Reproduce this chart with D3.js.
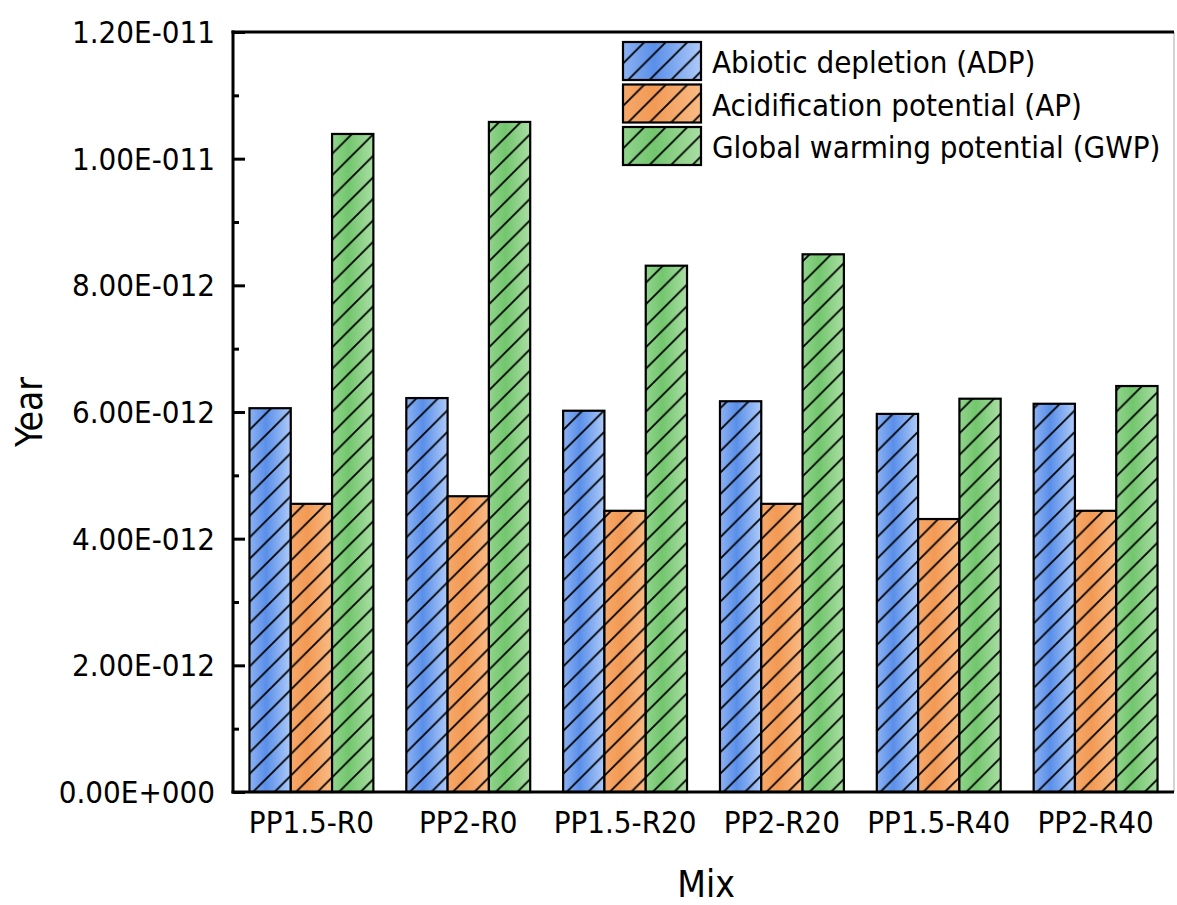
<!DOCTYPE html>
<html>
<head>
<meta charset="utf-8">
<script src="https://cdn.jsdelivr.net/npm/d3@7"></script>
<style>
  body { margin: 0; background: #fff; }
  text { font-family: "DejaVu Sans Condensed", "DejaVu Sans", sans-serif; font-stretch: condensed; fill: #000; }
</style>
</head>
<body>
<div id="svg-area"></div>
<script>
var svgWidth = 1177;
var svgHeight = 905;

// chart data
var mixes = ["PP1.5-R0", "PP2-R0", "PP1.5-R20", "PP2-R20", "PP1.5-R40", "PP2-R40"];
var seriesNames = ["Abiotic depletion (ADP)", "Acidification potential (AP)", "Global warming potential (GWP)"];
var adpValues = [6.06e-12, 6.22e-12, 6.02e-12, 6.17e-12, 5.97e-12, 6.13e-12];
var apValues = [4.55e-12, 4.67e-12, 4.44e-12, 4.55e-12, 4.31e-12, 4.44e-12];
var gwpValues = [1.039e-11, 1.058e-11, 8.31e-12, 8.49e-12, 6.21e-12, 6.41e-12];
var yTicks = [0, 2e-12, 4e-12, 6e-12, 8e-12, 1e-11, 1.2e-11];
var yMinorTicks = [1e-12, 3e-12, 5e-12, 7e-12, 9e-12, 1.1e-11];
var yTickLabels = ["0.00E+000", "2.00E-012", "4.00E-012", "6.00E-012", "8.00E-012", "1.00E-011", "1.20E-011"];

var seriesValues = [adpValues, apValues, gwpValues];

// gradient stops for each series (left, middle, right)
var gradColors = [
  ["#8db2f2", "#5a8fe9", "#aecaf8"],
  ["#f6a86a", "#f29a55", "#f9bb85"],
  ["#91d48c", "#73c66e", "#aadea4"]
];

var margin = { left: 233, right: 3, top: 32, bottom: 113 };
var plotW = svgWidth - margin.left - margin.right;
var plotH = svgHeight - margin.top - margin.bottom;

var svg = d3.select("#svg-area")
  .append("svg")
  .attr("width", svgWidth)
  .attr("height", svgHeight);

var defs = svg.append("defs");

// horizontal gradients
gradColors.forEach(function(c, i) {
  var g = defs.append("linearGradient")
    .attr("id", "grad" + i)
    .attr("x1", "0%").attr("x2", "100%")
    .attr("y1", "0%").attr("y2", "0%");
  g.append("stop").attr("offset", "0%").attr("stop-color", c[0]);
  g.append("stop").attr("offset", "40%").attr("stop-color", c[1]);
  g.append("stop").attr("offset", "100%").attr("stop-color", c[2]);
});

// diagonal hatch
var hs = 21.5;
var hatch = defs.append("pattern")
  .attr("id", "hatch")
  .attr("patternUnits", "userSpaceOnUse")
  .attr("width", hs)
  .attr("height", hs);
hatch.append("path")
  .attr("d", "M0," + hs + " L" + hs + ",0 M" + (-hs / 4) + "," + (hs / 4) + " L" + (hs / 4) + "," + (-hs / 4) +
    " M" + (hs * 3 / 4) + "," + (hs * 5 / 4) + " L" + (hs * 5 / 4) + "," + (hs * 3 / 4))
  .attr("stroke", "#000")
  .attr("stroke-width", 1.8);

// scales
var xScale = d3.scaleBand()
  .domain(mixes)
  .range([margin.left, margin.left + plotW])
  .paddingInner(0.21)
  .paddingOuter(0.105);

var xSub = d3.scaleBand()
  .domain(d3.range(seriesNames.length))
  .range([0, xScale.bandwidth()]);

var yScale = d3.scaleLinear()
  .domain([0, 1.2e-11])
  .range([margin.top + plotH, margin.top]);

// bars
var groups = svg.selectAll(".group")
  .data(mixes)
  .enter()
  .append("g")
  .attr("class", "group")
  .attr("transform", d => "translate(" + xScale(d) + ",0)");

groups.each(function(mix, mi) {
  var g = d3.select(this);
  seriesValues.forEach(function(vals, si) {
    var x = xSub(si);
    var y = yScale(vals[mi]);
    var h = yScale(0) - y;
    g.append("rect")
      .attr("x", x).attr("y", y)
      .attr("width", xSub.bandwidth()).attr("height", h)
      .attr("fill", "url(#grad" + si + ")");
    g.append("rect")
      .attr("x", x).attr("y", y)
      .attr("width", xSub.bandwidth()).attr("height", h)
      .attr("fill", "url(#hatch)")
      .attr("stroke", "#000")
      .attr("stroke-width", 2.2);
  });
});

// frame: right border thin grey
svg.append("line")
  .attr("x1", margin.left + plotW).attr("x2", margin.left + plotW)
  .attr("y1", margin.top).attr("y2", margin.top + plotH)
  .attr("stroke", "#aaa").attr("stroke-width", 1);

// top border
svg.append("line")
  .attr("x1", margin.left - 1.5).attr("x2", margin.left + plotW)
  .attr("y1", margin.top).attr("y2", margin.top)
  .attr("stroke", "#000").attr("stroke-width", 3);

// y axis with inward ticks
var yAxis = d3.axisRight(yScale)
  .tickValues(yTicks)
  .tickSize(12)
  .tickFormat("");
svg.append("g")
  .attr("transform", "translate(" + margin.left + ",0)")
  .call(yAxis)
  .call(g => g.select(".domain").remove())
  .selectAll("line").attr("stroke", "#000").attr("stroke-width", 3);

var yMinor = d3.axisRight(yScale)
  .tickValues(yMinorTicks)
  .tickSize(6)
  .tickFormat("");
svg.append("g")
  .attr("transform", "translate(" + margin.left + ",0)")
  .call(yMinor)
  .call(g => g.select(".domain").remove())
  .selectAll("line").attr("stroke", "#000").attr("stroke-width", 3);

svg.append("line")
  .attr("x1", margin.left).attr("x2", margin.left)
  .attr("y1", margin.top - 1.5).attr("y2", margin.top + plotH + 1.5)
  .attr("stroke", "#000").attr("stroke-width", 3);

// y tick labels
svg.selectAll(".ylab")
  .data(yTicks)
  .enter()
  .append("text")
  .attr("class", "ylab")
  .attr("x", 215)
  .attr("y", d => yScale(d))
  .attr("dy", "0.36em")
  .attr("text-anchor", "end")
  .style("font-size", "31px")
  .text((d, i) => yTickLabels[i]);

// bottom axis
svg.append("line")
  .attr("x1", margin.left - 1.5).attr("x2", margin.left + plotW)
  .attr("y1", margin.top + plotH).attr("y2", margin.top + plotH)
  .attr("stroke", "#000").attr("stroke-width", 3);

svg.selectAll(".xlab")
  .data(mixes)
  .enter()
  .append("text")
  .attr("class", "xlab")
  .attr("x", d => xScale(d) + xScale.bandwidth() / 2)
  .attr("y", 833)
  .attr("text-anchor", "middle")
  .style("font-size", "31px")
  .text(d => d);

// axis titles
svg.append("text")
  .attr("transform", "translate(42,412) rotate(-90)")
  .attr("text-anchor", "middle")
  .style("font-size", "37px")
  .text("Year");

svg.append("text")
  .attr("x", 706)
  .attr("y", 897)
  .attr("text-anchor", "middle")
  .style("font-size", "37px")
  .text("Mix");

// legend
var legend = svg.selectAll(".legend")
  .data(seriesNames)
  .enter()
  .append("g")
  .attr("class", "legend")
  .attr("transform", (d, i) => "translate(623," + (42 + i * 42.5) + ")");

legend.append("rect")
  .attr("width", 78).attr("height", 38)
  .attr("fill", (d, i) => "url(#grad" + i + ")");
legend.append("rect")
  .attr("width", 78).attr("height", 38)
  .attr("fill", "url(#hatch)")
  .attr("stroke", "#000")
  .attr("stroke-width", 2.2);
legend.append("text")
  .attr("x", 89)
  .attr("y", 20)
  .attr("dy", "0.36em")
  .style("font-size", "31px")
  .text(d => d);
</script>
</body>
</html>
